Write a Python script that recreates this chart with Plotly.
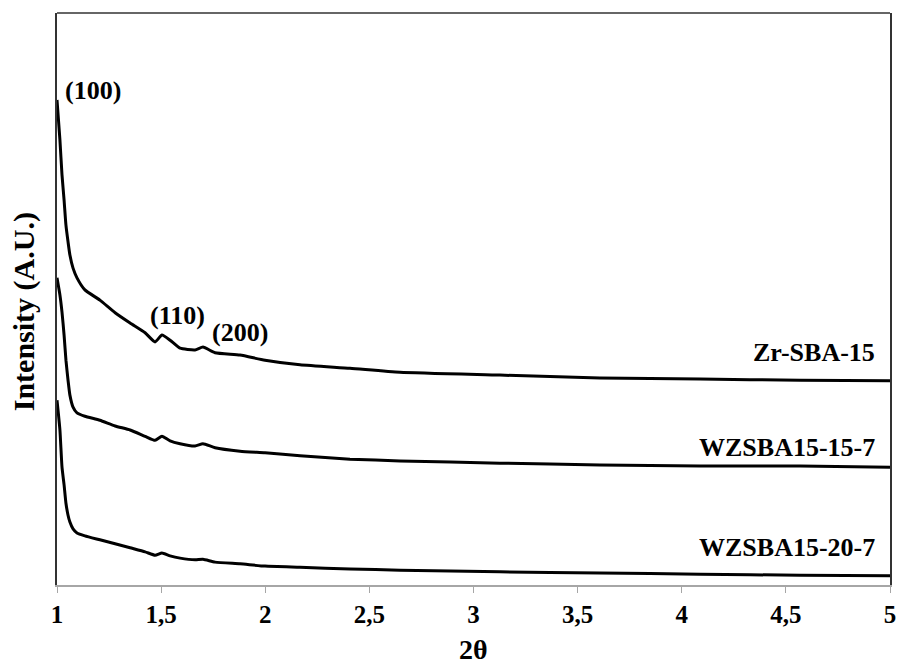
import plotly.graph_objects as go

two_theta = [1.000, 1.014, 1.024, 1.034, 1.043, 1.053, 1.062, 1.077, 1.096, 1.134,
             1.206, 1.279, 1.351, 1.423, 1.471, 1.504, 1.543, 1.591, 1.663, 1.701,
             1.759, 1.879, 1.999, 2.167, 2.407, 2.647, 3.127, 3.607, 4.088, 4.568, 5.000]

zr_sba15 = [84.8, 77.8, 71.7, 67.3, 62.9, 60.0, 57.7, 55.4, 53.7, 51.6,
            49.8, 47.6, 45.8, 44.1, 42.5, 43.7, 42.8, 41.4, 41.1, 41.6,
            40.6, 40.2, 39.3, 38.5, 37.9, 37.2, 36.7, 36.2, 36.0, 35.8, 35.7]

wzsba15_15_7 = [53.7, 50.7, 47.7, 43.7, 39.3, 35.8, 33.2, 31.1, 30.1, 29.5,
                28.8, 27.8, 27.1, 26.0, 25.3, 26.0, 25.2, 24.7, 24.3, 24.7,
                24.0, 23.4, 23.1, 22.6, 22.0, 21.7, 21.3, 21.0, 20.8, 20.8, 20.6]

wzsba15_20_7 = [32.3, 27.1, 20.6, 17.5, 14.3, 12.2, 11.0, 9.8, 9.1, 8.6,
                7.9, 7.2, 6.5, 5.8, 5.2, 5.6, 5.1, 4.7, 4.4, 4.5,
                4.0, 3.7, 3.3, 3.1, 2.8, 2.6, 2.3, 2.1, 1.9, 1.7, 1.6]

series_names = ["Zr-SBA-15", "WZSBA15-15-7", "WZSBA15-20-7"]
series_values = [zr_sba15, wzsba15_15_7, wzsba15_20_7]
series_label_y = [40.7, 24.1, 6.6]

tick_vals = [1, 1.5, 2, 2.5, 3, 3.5, 4, 4.5, 5]
tick_text = ["1", "1,5", "2", "2,5", "3", "3,5", "4", "4,5", "5"]

peak_labels = ["(100)", "(110)", "(200)"]
peak_x = [1.029, 1.437, 1.735]
peak_y = [86.5, 47.2, 44.2]

FONT = "Liberation Serif"

fig = go.Figure()
for name, vals in zip(series_names, series_values):
    fig.add_trace(go.Scatter(x=two_theta, y=vals, mode="lines", name=name,
                             line=dict(color="black", width=3, shape="spline", smoothing=0.5),
                             showlegend=False))

annotations = []
for name, yv in zip(series_names, series_label_y):
    annotations.append(dict(x=4.938, y=yv, xref="x", yref="y", text=f"<b>{name}</b>",
                            showarrow=False, xanchor="right", yanchor="middle",
                            font=dict(family=FONT, size=26, color="black")))
for lab, px, py in zip(peak_labels, peak_x, peak_y):
    annotations.append(dict(x=px, y=py, xref="x", yref="y", text=f"<b>{lab}</b>",
                            showarrow=False, xanchor="left", yanchor="middle",
                            font=dict(family=FONT, size=26, color="black")))
annotations.append(dict(x=0.5, y=-0.112, xref="paper", yref="paper", text="<b>2θ</b>",
                        showarrow=False, xanchor="center", yanchor="middle",
                        font=dict(family=FONT, size=28, color="black")))
annotations.append(dict(x=-0.04, y=0.478, xref="paper", yref="paper",
                        text="<b>Intensity (A.U.)</b>", textangle=-90,
                        showarrow=False, xanchor="center", yanchor="middle",
                        font=dict(family=FONT, size=30, color="black")))

fig.update_layout(
    width=900, height=668,
    margin=dict(l=57, r=10, t=13, b=83, autoexpand=False),
    paper_bgcolor="white", plot_bgcolor="white",
    annotations=annotations,
    shapes=[dict(type="line", xref="paper", yref="paper", x0=0, x1=1, y0=1, y1=1,
                 line=dict(color="#333333", width=1.5))],
    xaxis=dict(range=[1, 5], showgrid=False, zeroline=False, automargin=False,
               showline=True, linecolor="#a6a6a6", linewidth=1.5,
               ticks="outside", ticklen=6, tickcolor="#a6a6a6", tickwidth=1,
               tickvals=tick_vals, ticktext=[f"<b>{t}</b>" for t in tick_text],
               tickfont=dict(family=FONT, size=25, color="black")),
    yaxis=dict(range=[0, 100], showgrid=False, zeroline=False, automargin=False,
               showline=True, linecolor="#333333", linewidth=1.5, mirror=True,
               showticklabels=False, ticks=""),
)

fig.write_html("out.html")
